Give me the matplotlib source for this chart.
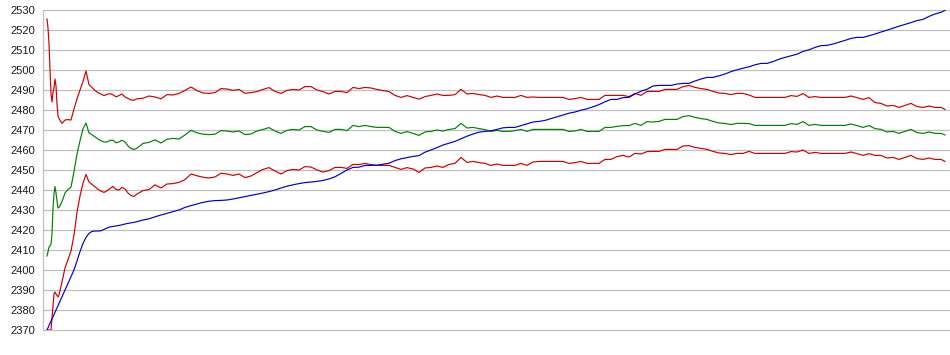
import matplotlib
matplotlib.use("Agg")
import matplotlib.pyplot as plt

# sample positions (periods)
t = list(range(0, 13)) + list(range(15, 91, 3)) + list(range(96, 895, 6)) + [898]

upper = [
    2525.5, 2521, 2513, 2500, 2488, 2484, 2489, 2491, 2495.5, 2492, 2483, 2477, 2475.7,
    2473.3, 2475, 2475.2, 2475, 2480.5, 2485.5, 2490, 2494.3, 2499.5, 2492.7, 2491.2, 2489.8, 2488.7,
    2488, 2487.2, 2487.8, 2488.2, 2487.6, 2486.6, 2487.2, 2488, 2486.5, 2485.8, 2485, 2484.9, 2485.6,
    2485.9, 2487, 2486.5, 2485.6, 2487.7, 2487.5, 2488.3, 2489.8, 2491.5, 2489.7, 2488.5, 2488.3, 2488.7, 2490.7, 2490.5,
    2489.8, 2490.3, 2488.3, 2488.7, 2489.2, 2490.3, 2491.2, 2489.3, 2488.3, 2489.8, 2490.3, 2490, 2491.7, 2491.7, 2490,
    2489.2, 2488, 2489.3, 2489.3, 2488.7, 2491.3, 2490.7, 2491.3, 2491, 2490.3, 2489.7, 2489.2, 2487.3, 2486.3, 2487.2, 2486.3,
    2485.4, 2486.7, 2487.3, 2488, 2487.3, 2487.3, 2487.7, 2490.3, 2488, 2488.3, 2487.7, 2487.3, 2486.3, 2487, 2486.3,
    2486.3, 2486.3, 2487.3, 2486.3, 2486.5, 2486.3, 2486.3, 2486.3, 2486.3, 2486.3, 2485.3, 2485.7, 2486.3, 2485.3, 2485.3, 2485.3,
    2487.3, 2487.3, 2487.3, 2487.3, 2486.7, 2488.3, 2487.3, 2489.3, 2489.3, 2489.3, 2490.3, 2490.3, 2490.3, 2491.7, 2492.3, 2491.3,
    2490.7, 2490.3, 2489.3, 2488.5, 2488.3, 2487.7, 2488.3, 2488.3, 2487.5, 2486.3, 2486.3, 2486.3, 2486.3, 2486.3, 2486.3, 2487.2, 2486.8,
    2488.2, 2486.3, 2486.7, 2486.3, 2486.3, 2486.3, 2486.3, 2486.3, 2487, 2486.2, 2485.3, 2486.2,
    2483.7, 2483.3, 2482, 2482.3, 2481.3, 2482.3, 2483.3, 2481.7, 2481.3, 2482, 2481.3, 2481.3,
    2480.3,
]

middle = [
    2407, 2409, 2411.5, 2412, 2413, 2418, 2431, 2438, 2441.7, 2438.5, 2434.5, 2431, 2431.3,
    2434.2, 2438.5, 2440.3, 2441.5, 2449.2, 2458, 2464.6, 2470.6, 2473.5, 2468.5, 2467.6, 2466.6, 2465.5,
    2464.6, 2464, 2464, 2464.8, 2464.9, 2463.6, 2464, 2464.9, 2464, 2462, 2460.7, 2460.3, 2460.9,
    2463.3, 2463.8, 2465.1, 2463.5, 2465.4, 2465.8, 2465.5, 2467.5, 2469.8, 2468.6, 2467.9, 2467.7, 2467.9, 2469.7, 2469.5,
    2469, 2469.5, 2467.7, 2468, 2469.5, 2470.3, 2471.2, 2469.5, 2468.3, 2469.8, 2470.3, 2470, 2471.7, 2471.7, 2470,
    2469.3, 2468.8, 2470.3, 2470.3, 2469.7, 2472.3, 2471.7, 2472.3, 2471.7, 2471.3, 2471.3, 2471.3, 2469.3, 2468.3, 2469.2, 2468.3,
    2467.3, 2469, 2469.3, 2470, 2469.5, 2470.3, 2470.7, 2473.3, 2471, 2471.3, 2470.7, 2470.2, 2469.3, 2469.8, 2469.3,
    2469.3, 2469.7, 2470.3, 2469.3, 2470.3, 2470.3, 2470.3, 2470.3, 2470.3, 2470.3, 2469.3, 2469.5, 2470.3, 2469.3, 2469.3, 2469.3,
    2471.3, 2471.3, 2471.8, 2472.2, 2472.2, 2473.3, 2472.3, 2474.2, 2474, 2474.3, 2475.3, 2475.3, 2475.3, 2476.7, 2477.2, 2476.3,
    2475.7, 2475.3, 2474.3, 2473.5, 2473.3, 2472.7, 2473.3, 2473.3, 2473.2, 2472.3, 2472.3, 2472.3, 2472.3, 2472.3, 2472.3, 2473.2, 2472.8,
    2474.2, 2472.3, 2472.8, 2472.3, 2472.3, 2472.3, 2472.3, 2472.3, 2473, 2472.2, 2471.3, 2472.2,
    2470.7, 2470.3, 2469, 2469.3, 2468.3, 2469.3, 2470.3, 2468.7, 2468.3, 2469, 2468.3, 2468.3,
    2467.5,
]

lower = [
    2370, 2370, 2370, 2370, 2370, 2376, 2382, 2388, 2389, 2388, 2387.3, 2386.5, 2387.5,
    2394, 2401, 2405.3, 2409.5, 2417.5, 2428.8, 2437, 2443.4, 2447.8, 2444, 2442.8, 2441.6, 2440.3,
    2439.4, 2438.8, 2439.6, 2440.8, 2441.8, 2440.3, 2440, 2441.3, 2440.5, 2438.5, 2437.2, 2436.8, 2438,
    2439.7, 2440.2, 2442.6, 2441, 2443, 2443.2, 2443.8, 2445.2, 2448, 2447.1, 2446.4, 2446, 2446.5, 2448.4, 2448,
    2447.3, 2448, 2446.2, 2447, 2448.7, 2450.3, 2451.2, 2449.5, 2448, 2449.7, 2450.3, 2450, 2451.7, 2451.5, 2450,
    2449, 2449.7, 2451.3, 2451.3, 2450.8, 2452.8, 2452.7, 2453.3, 2452.7, 2452.3, 2452.3, 2452.3, 2451.3, 2450.3, 2451.2, 2450.5,
    2448.8, 2451, 2451.3, 2452, 2451.3, 2452.8, 2453.3, 2456.3, 2453.8, 2454.3, 2453.7, 2453.3, 2452.3, 2453, 2452.3,
    2452.3, 2452.3, 2453.3, 2452.3, 2454, 2454.3, 2454.3, 2454.3, 2454.3, 2454.3, 2453.3, 2453.7, 2454.3, 2453.3, 2453.3, 2453.3,
    2455.3, 2455.3, 2456.7, 2457.3, 2456.5, 2458.3, 2458, 2459.2, 2459.3, 2459.3, 2460.3, 2460.3, 2460.3, 2462, 2462.2, 2461.3,
    2460.8, 2460.3, 2459.3, 2458.5, 2458.3, 2457.7, 2458.3, 2458.3, 2459.3, 2458.3, 2458.3, 2458.3, 2458.3, 2458.3, 2458.3, 2459.2, 2459,
    2460, 2458.3, 2458.8, 2458.3, 2458.3, 2458.3, 2458.3, 2458.3, 2459, 2458.2, 2457.3, 2458.2,
    2457.3, 2457.3, 2456, 2456.3, 2455.3, 2456.3, 2457.3, 2455.7, 2455.3, 2456, 2455.3, 2455.3,
    2454.3,
]

price = [
    2370, 2371.1, 2372.2, 2373.4, 2374.5, 2375.6, 2376.7, 2377.8, 2378.9, 2380, 2381.1, 2382.2, 2383.3,
    2386.7, 2390, 2393.3, 2396.7, 2400, 2404.5, 2409.2, 2413.3, 2416.3, 2418.3, 2419.3, 2419.5, 2419.5,
    2419.6, 2420.3, 2421, 2421.5, 2421.8, 2422, 2422.3, 2422.6, 2423, 2423.3, 2423.6, 2423.8, 2424.2,
    2425, 2425.6, 2426.6, 2427.5, 2428.3, 2429.2, 2430, 2431.3, 2432.2, 2433, 2433.8, 2434.4, 2434.7, 2434.8, 2435,
    2435.5, 2436.1, 2436.7, 2437.3, 2437.9, 2438.5, 2439.2, 2440, 2441, 2441.9, 2442.6, 2443.2, 2443.7, 2444, 2444.3,
    2444.8, 2445.5, 2446.6, 2448.3, 2450, 2451.3, 2451.4, 2452.3, 2452.3, 2452.4, 2452.9, 2453.4, 2454.7, 2455.6, 2456.2, 2456.8,
    2457.2, 2458.9, 2460, 2461.2, 2462.5, 2463.4, 2464.3, 2465.6, 2466.9, 2468, 2468.9, 2469.3, 2469.6, 2470.3, 2471.1,
    2471.3, 2471.3, 2472.2, 2473.1, 2474, 2474.3, 2474.8, 2475.7, 2476.6, 2477.5, 2478.4, 2479, 2479.9, 2480.6, 2481.6, 2482.7,
    2484.1, 2485.3, 2485.3, 2486.2, 2486.3, 2488, 2489.4, 2490.4, 2492, 2492.3, 2492.3, 2492.3, 2493, 2493.3, 2493.3, 2494.5,
    2495.5, 2496.3, 2496.3, 2497.1, 2498, 2499.2, 2500.1, 2500.9, 2501.6, 2502.6, 2503.3, 2503.3, 2504.2, 2505.4, 2506.3, 2507.1, 2507.9,
    2509.3, 2510.1, 2511.3, 2512.2, 2512.3, 2513, 2513.9, 2514.8, 2515.8, 2516.3, 2516.3, 2517.1,
    2518, 2519, 2519.9, 2520.9, 2521.9, 2522.8, 2523.7, 2524.7, 2525.3, 2526.8, 2528, 2528.9,
    2529.8,
]

y_ticks = list(range(2370, 2531, 10))

W, H = 950, 355
fig = plt.figure(figsize=(W / 100, H / 100), dpi=100)
ax = fig.add_axes([43 / W, 25 / H, 907 / W, 320 / H])

lw = 0.85
ax.plot(t, upper, color="#cc0000", lw=lw, zorder=3)
ax.plot(t, lower, color="#cc0000", lw=lw, zorder=3)
ax.plot(t, middle, color="#008000", lw=lw, zorder=3)
ax.plot(t, price, color="#0000cc", lw=lw, zorder=4)

ax.set_xlim(-4, 903)
ax.set_ylim(2370, 2530)
ax.set_yticks(y_ticks)
ax.set_yticklabels([str(v) for v in y_ticks], fontsize=8,
                   family=["Liberation Sans", "DejaVu Sans"], color="#1a1a1a")
ax.set_xticks([])
ax.tick_params(axis="y", length=0, pad=5.5)
ax.yaxis.grid(True, color="#c0c0c0", lw=0.9, zorder=1)
ax.set_axisbelow(True)
for s in ("top", "right", "bottom"):
    ax.spines[s].set_visible(False)
ax.spines["left"].set_color("#c0c0c0")
ax.spines["left"].set_linewidth(0.9)
for gl in ax.get_ygridlines():
    gl.set_clip_on(False)

fig.savefig("out.png", dpi=100, facecolor="white")
